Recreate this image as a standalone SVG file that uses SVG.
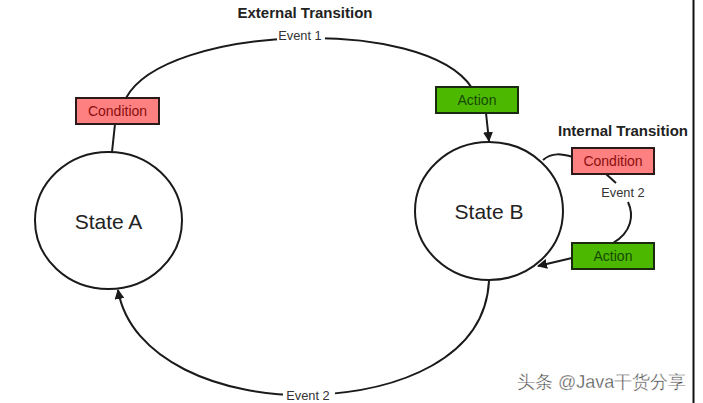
<svg xmlns="http://www.w3.org/2000/svg" width="703" height="403" viewBox="0 0 703 403">
<style>
text{font-family:"Liberation Sans","Noto Sans",Arial,sans-serif}
.state{fill:#fff;stroke:#1a1a1a;stroke-width:2}
.st{font-size:21px;fill:#222;text-anchor:middle}
.cond{fill:#ff8080;stroke:#2a1a1a;stroke-width:2}
.act{fill:#4cb800;stroke:#1a2a10;stroke-width:2}
.ct{font-size:14px;fill:#8a0f0f;text-anchor:middle}
.at{font-size:14px;fill:#174a00;text-anchor:middle}
.lbl{font-size:12.8px;fill:#333;text-anchor:middle}
.title{font-size:15px;font-weight:bold;fill:#222;text-anchor:middle}
.edge{fill:none;stroke:#1a1a1a;stroke-width:2}
</style>
<defs>
<marker id="arr" markerWidth="10" markerHeight="10" refX="9" refY="5" orient="auto" markerUnits="userSpaceOnUse" viewBox="0 0 10 10">
<path d="M0,0 L10,5 L0,10 z" fill="#1a1a1a"/>
</marker>
</defs>
<rect width="703" height="403" fill="#fff"/>
<line x1="693.5" y1="0" x2="693.5" y2="403" stroke="#111" stroke-width="2"/>
<g id="connectors">
<path class="edge" d="M112,152 L115,124"/>
<path class="edge" d="M126,98 C165,25 425,15 472,88"/>
<path class="edge" d="M486,113 L489,141" marker-end="url(#arr)"/>
<path class="edge" d="M489,281 C485,358 400,392 310,395 C220,397 130,360 118,290" marker-end="url(#arr)"/>
<path class="edge" d="M543,160 C552,152 562,154 573,157"/>
<path class="edge" d="M606,174 L616,183"/>
<path class="edge" d="M628,202 C634,215 632,232 613,243"/>
<path class="edge" d="M572,258 L538,266" marker-end="url(#arr)"/>
<rect x="277" y="28" width="48" height="14" fill="#fff"/>
<text class="lbl" x="300" y="40">Event 1</text>
<rect x="283" y="389" width="52" height="14" fill="#fff"/>
<text class="lbl" x="308" y="400">Event 2</text>
<text class="lbl" x="623" y="197">Event 2</text>
</g>
<g id="title-external"><text class="title" x="305" y="17.5">External Transition</text></g>
<g id="title-internal"><text class="title" x="623" y="135.5">Internal Transition</text></g>
<g id="stateA">
<ellipse class="state" cx="108.5" cy="220.5" rx="73.5" ry="68.5"/>
<text class="st" x="108.5" y="228.5">State A</text>
</g>
<g id="stateB">
<ellipse class="state" cx="489" cy="211" rx="74" ry="69"/>
<text class="st" x="489" y="218.5">State B</text>
</g>
<g id="condition-ext">
<rect class="cond" x="76" y="98" width="83" height="26"/>
<text class="ct" x="117.5" y="116">Condition</text>
</g>
<g id="action-ext">
<rect class="act" x="436" y="87" width="82" height="26"/>
<text class="at" x="477" y="105">Action</text>
</g>
<g id="condition-int">
<rect class="cond" x="572" y="148" width="82" height="26"/>
<text class="ct" x="613" y="166">Condition</text>
</g>
<g id="action-int">
<rect class="act" x="572" y="243" width="82" height="26"/>
<text class="at" x="613" y="261">Action</text>
</g>
<g id="watermark">
<text x="517" y="388" font-size="18" fill="#444" stroke="#fff" stroke-width="0.4" font-family="'Liberation Sans','Noto Sans CJK SC',sans-serif">头条 @Java干货分享</text>
</g>
</svg>
